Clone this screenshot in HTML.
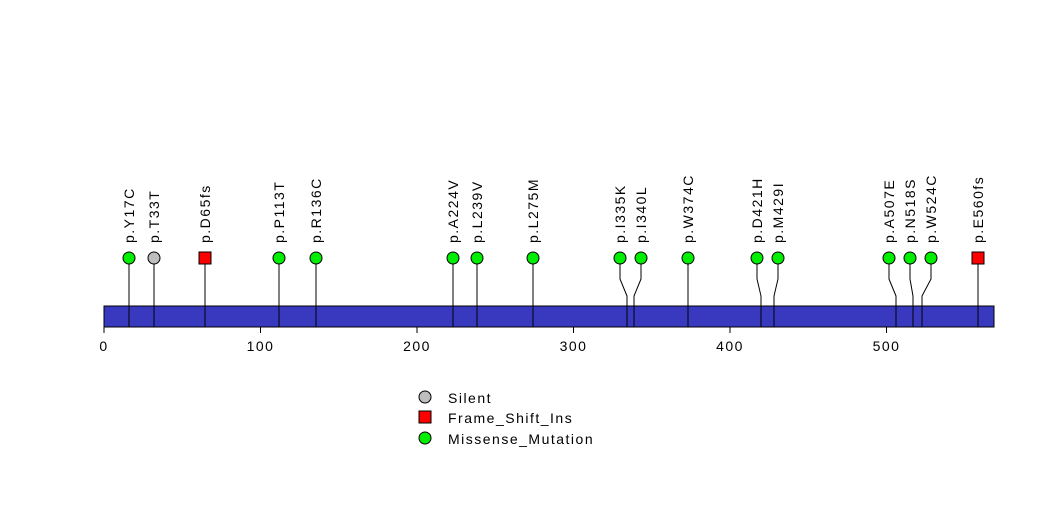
<!DOCTYPE html>
<html><head><style>body{margin:0;background:#fff}svg{display:block}text{font-family:"Liberation Sans",sans-serif;font-size:14px;letter-spacing:1.5px}</style></head>
<body>
<svg width="1047" height="524" viewBox="0 0 1047 524" xmlns="http://www.w3.org/2000/svg">
<rect x="104" y="306" width="890" height="21" fill="#3939bf" stroke="#000" stroke-width="1"/>
<g stroke="#000" stroke-width="1" fill="none">
<polyline points="129,264 129,327"/>
<polyline points="154,264 154,327"/>
<polyline points="205,264 205,327"/>
<polyline points="279,264 279,327"/>
<polyline points="316,264 316,327"/>
<polyline points="453,264 453,327"/>
<polyline points="477,264 477,327"/>
<polyline points="533,264 533,327"/>
<polyline points="620,264 620,279 627,296 627,327"/>
<polyline points="641,264 641,279 634,296 634,327"/>
<polyline points="688,264 688,327"/>
<polyline points="757,264 757,279 761,296 761,327"/>
<polyline points="778,264 778,279 774,296 774,327"/>
<polyline points="889,264 889,279 896,296 896,327"/>
<polyline points="910,264 910,279 913,296 913,327"/>
<polyline points="931,264 931,279 922,296 922,327"/>
<polyline points="978,264 978,327"/>
<line x1="104" y1="327" x2="104" y2="333"/><line x1="260.5" y1="327" x2="260.5" y2="333"/><line x1="417" y1="327" x2="417" y2="333"/><line x1="573.5" y1="327" x2="573.5" y2="333"/><line x1="730" y1="327" x2="730" y2="333"/><line x1="886.5" y1="327" x2="886.5" y2="333"/>
</g>
<g stroke="#000" stroke-width="1" fill="#00ee00">
<circle cx="129" cy="258" r="6"/><circle cx="154" cy="258" r="6" fill="#bebebe"/>
<rect x="199" y="252" width="12" height="12" fill="#ff0000"/>
<circle cx="279" cy="258" r="6"/><circle cx="316" cy="258" r="6"/><circle cx="453" cy="258" r="6"/><circle cx="477" cy="258" r="6"/><circle cx="533" cy="258" r="6"/><circle cx="620" cy="258" r="6"/><circle cx="641" cy="258" r="6"/><circle cx="688" cy="258" r="6"/><circle cx="757" cy="258" r="6"/><circle cx="778" cy="258" r="6"/><circle cx="889" cy="258" r="6"/><circle cx="910" cy="258" r="6"/><circle cx="931" cy="258" r="6"/>
<rect x="972" y="252" width="12" height="12" fill="#ff0000"/>
</g>
<g fill="#000">
<text transform="translate(134,243) rotate(-90)">p.Y17C</text>
<text transform="translate(159,243) rotate(-90)">p.T33T</text>
<text transform="translate(210,243) rotate(-90)">p.D65fs</text>
<text transform="translate(284,243) rotate(-90)">p.P113T</text>
<text transform="translate(321,243) rotate(-90)">p.R136C</text>
<text transform="translate(458,243) rotate(-90)">p.A224V</text>
<text transform="translate(482,243) rotate(-90)">p.L239V</text>
<text transform="translate(538,243) rotate(-90)">p.L275M</text>
<text transform="translate(625,243) rotate(-90)">p.I335K</text>
<text transform="translate(646,243) rotate(-90)">p.I340L</text>
<text transform="translate(693,243) rotate(-90)">p.W374C</text>
<text transform="translate(762,243) rotate(-90)">p.D421H</text>
<text transform="translate(783,243) rotate(-90)">p.M429I</text>
<text transform="translate(894,243) rotate(-90)">p.A507E</text>
<text transform="translate(915,243) rotate(-90)">p.N518S</text>
<text transform="translate(936,243) rotate(-90)">p.W524C</text>
<text transform="translate(983,243) rotate(-90)">p.E560fs</text>
<g text-anchor="middle">
<text x="104" y="351">0</text><text x="260.5" y="351">100</text><text x="417" y="351">200</text><text x="573.5" y="351">300</text><text x="730" y="351">400</text><text x="886.5" y="351">500</text>
</g>
<text x="448" y="403">Silent</text>
<text x="448" y="423">Frame_Shift_Ins</text>
<text x="448" y="444">Missense_Mutation</text>
</g>
<g stroke="#000" stroke-width="1">
<circle cx="425" cy="397" r="6" fill="#bebebe"/>
<rect x="419" y="411" width="12" height="12" fill="#ff0000"/>
<circle cx="425" cy="438" r="6" fill="#00ee00"/>
</g>
</svg>
</body></html>
